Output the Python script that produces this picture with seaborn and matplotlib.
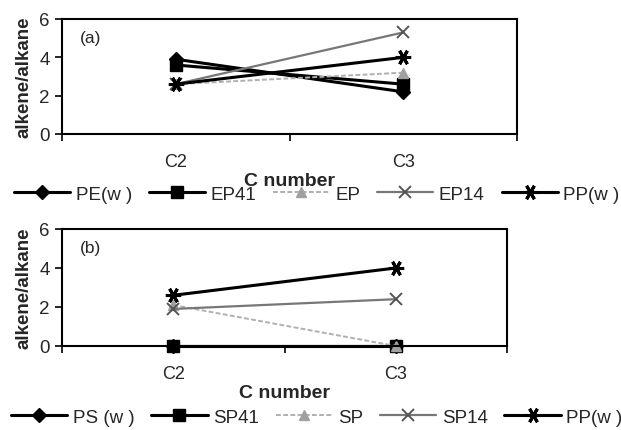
import matplotlib
matplotlib.use("Agg")
import matplotlib.pyplot as plt
import seaborn as sns
import pandas as pd
from matplotlib.lines import Line2D

categories = ["C2", "C3"]

names_a = ["PE(w )", "EP41", "EP", "EP14", "PP(w )"]
vals_a = {
    "PE(w )": [3.9, 2.2],
    "EP41": [3.6, 2.6],
    "EP": [2.6, 3.2],
    "EP14": [2.6, 5.3],
    "PP(w )": [2.6, 4.0],
}
names_b = ["PS (w )", "SP41", "SP", "SP14", "PP(w )"]
vals_b = {
    "PS (w )": [0.0, 0.0],
    "SP41": [0.0, 0.0],
    "SP": [2.1, 0.0],
    "SP14": [1.9, 2.4],
    "PP(w )": [2.6, 4.0],
}
yticks = [0, 2, 4, 6]

sns.set_theme(style="white")
plt.rcParams["font.family"] = ["Liberation Sans", "DejaVu Sans"]

styles = [
    dict(color="black", marker="D", ms=7, lw=2.2, ls="-", mfc="black", mec="black"),
    dict(color="black", marker="s", ms=8, lw=2.2, ls="-", mfc="black", mec="black"),
    dict(color="#b0b0b0", marker="^", ms=7, lw=1.4, ls=(0, (2.5, 1.2)), mfc="#a0a0a0", mec="#a0a0a0"),
    dict(color="#777777", marker="x", ms=9, lw=1.6, ls="-", mfc="#555555", mec="#555555", mew=1.4),
    dict(color="black", marker=(6, 2, 90), ms=11, lw=2.2, ls="-", mfc="black", mec="black", mew=2.2),
]

fig = plt.figure(figsize=(6.21, 4.31), dpi=100)
ax_a = fig.add_axes([62/621, 1-135/431, (517-62)/621, (135-20)/431])
ax_b = fig.add_axes([62/621, 1-347/431, (507-62)/621, (347-230)/431])

def draw(ax, names, vals, label, legend_y):
    handles = []
    for n, st in zip(names, styles):
        df = pd.DataFrame({"C": categories, "v": vals[n]})
        sns.lineplot(data=df, x="C", y="v", ax=ax, color=st["color"], lw=st["lw"],
                     ls=st["ls"], marker=st["marker"], markersize=st["ms"],
                     markerfacecolor=st["mfc"], markeredgecolor=st["mec"],
                     markeredgewidth=st.get("mew", 1.0), legend=False, clip_on=False)
        handles.append(Line2D([], [], color=st["color"], lw=st["lw"], ls=st["ls"],
                              marker=st["marker"], markersize=st["ms"],
                              markerfacecolor=st["mfc"], markeredgecolor=st["mec"],
                              markeredgewidth=st.get("mew", 1.0)))
    ax.set_xlim(-0.5, 1.5)
    ax.set_ylim(0, 6)
    ax.set_yticks(yticks)
    ax.set_xticks([0, 1])
    ax.set_xticklabels(categories, fontsize=13)
    ax.set_xticks([-0.5, 0.5, 1.5], minor=True)
    ax.tick_params(axis="x", which="major", length=0, pad=14)
    ax.tick_params(axis="x", which="minor", length=5, width=1.2, direction="out", color="black", bottom=True)
    ax.tick_params(axis="y", length=5, width=1.2, direction="out", color="black", left=True, labelsize=13.5, pad=4)
    for s in ax.spines.values():
        s.set_color("black")
        s.set_linewidth(1.5)
    ax.set_xlabel("C number", fontsize=14, fontweight="bold", labelpad=1)
    ax.set_ylabel("alkene/alkane", fontsize=13.5, fontweight="bold", labelpad=5)
    ax.text(0.04, 0.8, label, transform=ax.transAxes, fontsize=12.5)
    fig.legend(handles, names, loc="center", bbox_to_anchor=(0.51, legend_y), ncol=5,
               frameon=False, fontsize=13.5, handlelength=3.0, columnspacing=0.9,
               handletextpad=0.3, borderaxespad=0)

draw(ax_a, names_a, vals_a, "(a)", 1-195/431)
draw(ax_b, names_b, vals_b, "(b)", 1-418/431)

fig.savefig("out.png", dpi=100)
